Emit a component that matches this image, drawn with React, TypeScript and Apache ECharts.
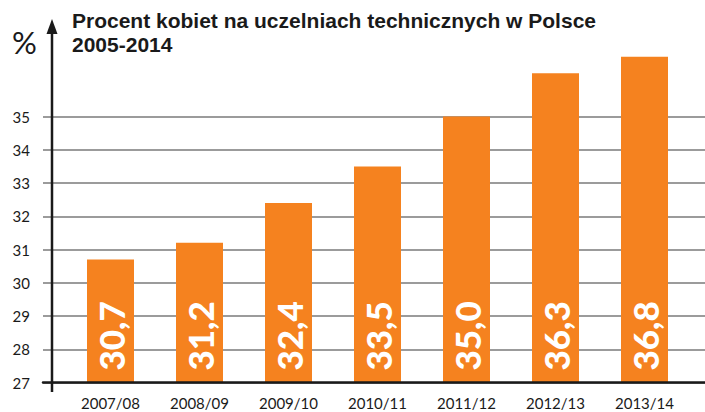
import React, { useEffect, useRef } from "react";
import * as echarts from "echarts";

const categories = ["2007/08", "2008/09", "2009/10", "2010/11", "2011/12", "2012/13", "2013/14"];
const values = [30.7, 31.2, 32.4, 33.5, 35.0, 36.3, 36.8];
const yTicks = [27, 28, 29, 30, 31, 32, 33, 34, 35];
const titleLine1 = "Procent kobiet na uczelniach technicznych w Polsce";
const titleLine2 = "2005-2014";
const unitText = "%";

const FONT = "Lato, 'Open Sans', sans-serif";
const TITLE_FONT = "'Liberation Sans', Arial, sans-serif";

export default function App() {
  const ref = useRef<HTMLDivElement>(null);
  useEffect(() => {
    if (!ref.current) return;
    const chart = echarts.init(ref.current, undefined, { renderer: "svg" });
    const yMin = yTicks[0];
    const yMaxTick = yTicks[yTicks.length - 1];
    const titleStyle = {
      fontFamily: TITLE_FONT,
      fontWeight: "bold",
      fontSize: 21,
      lineHeight: 23,
      color: "#1a1a1a",
    };
    chart.setOption({
      animation: false,
      backgroundColor: "#ffffff",
      title: [
        { text: titleLine1, left: 72, top: 9, padding: 0, textStyle: titleStyle },
        { text: titleLine2, left: 72, top: 33, padding: 0, textStyle: titleStyle },
      ],
      grid: [
        { left: 66, right: 16, top: 50, bottom: 29.5 },
        { left: 43, right: 0, top: 116.5, bottom: 29.5 },
      ],
      xAxis: [
        {
          type: "category",
          gridIndex: 0,
          data: categories,
          axisLine: { show: false },
          axisTick: { show: false },
          axisLabel: {
            margin: 13,
            fontFamily: FONT,
            fontSize: 15,
            color: "#1a1a1a",
          },
          z: 5,
        },
        {
          type: "value",
          gridIndex: 1,
          min: 0,
          max: 1,
          axisLine: { show: true, lineStyle: { color: "#1a1a1a", width: 2.5 } },
          axisTick: { show: false },
          axisLabel: { show: false },
          splitLine: { show: false },
          z: 4,
        },
      ],
      yAxis: [
        {
          type: "value",
          gridIndex: 0,
          min: 27,
          max: 37,
          show: false,
          splitLine: { show: false },
        },
        {
          type: "value",
          gridIndex: 1,
          min: yMin,
          max: yMaxTick,
          interval: 1,
          axisLine: { show: false },
          axisTick: { show: false },
          axisLabel: {
            margin: 13,
            fontFamily: FONT,
            fontSize: 15,
            color: "#1a1a1a",
          },
          splitLine: { show: true, lineStyle: { color: "#7a7a7a", width: 1.5 } },
        },
      ],
      series: [
        {
          type: "bar",
          xAxisIndex: 0,
          yAxisIndex: 0,
          data: values,
          barWidth: 47,
          itemStyle: { color: "#F5821F" },
          z: 3,
          label: {
            show: true,
            position: "insideBottom",
            rotate: 90,
            align: "left",
            verticalAlign: "middle",
            distance: 12,
            fontFamily: FONT,
            fontWeight: 900,
            fontSize: 35,
            color: "#ffffff",
            formatter: (p: any) => Number(p.value).toFixed(1).replace(".", ","),
          },
        },
      ],
      graphic: [
        {
          type: "line",
          z: 10,
          shape: { x1: 52, y1: 392, x2: 52, y2: 30 },
          style: { stroke: "#1a1a1a", lineWidth: 2.5 },
        },
        {
          type: "polygon",
          z: 10,
          shape: { points: [[52, 19], [46.5, 34], [57.5, 34]] },
          style: { fill: "#1a1a1a" },
        },
        {
          type: "text",
          z: 10,
          left: 12,
          top: 26,
          style: {
            text: unitText,
            font: `31px ${FONT}`,
            fill: "#1a1a1a",
          },
        },
      ],
    });
    return () => chart.dispose();
  }, []);
  return (
    <div
      ref={ref}
      style={{ position: "absolute", left: 0, top: 0, width: 705, height: 412 }}
    />
  );
}
